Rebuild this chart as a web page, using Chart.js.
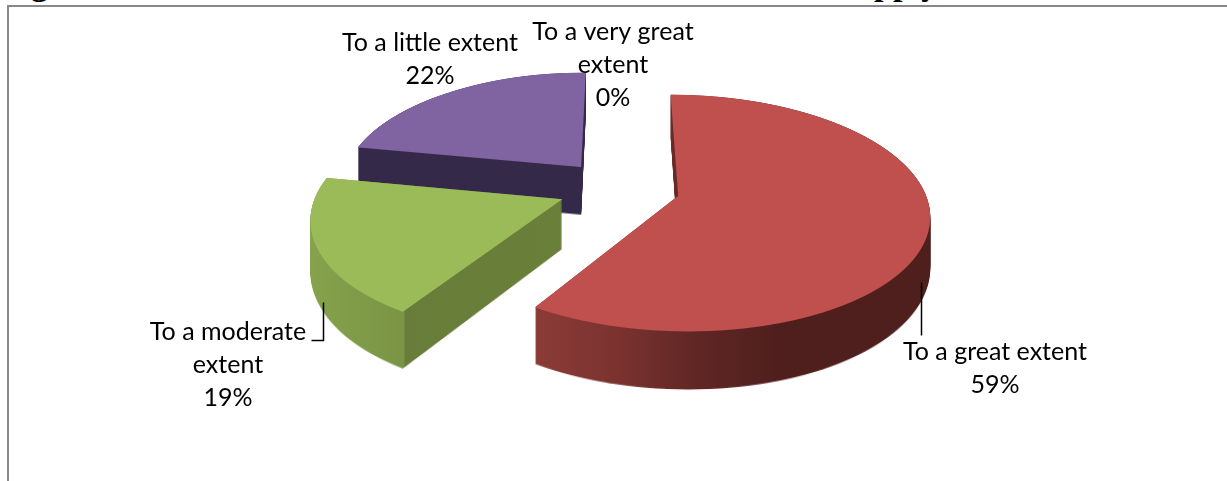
<!DOCTYPE html>
<html>
<head>
<meta charset="utf-8">
<title>Extent chart</title>
<script src="https://cdn.jsdelivr.net/npm/chart.js@4"></script>
<style>
html, body { margin: 0; padding: 0; background: #fff; overflow: hidden; }
#wrap { position: absolute; left: 0; top: 0; width: 1227px; height: 481px; overflow: hidden; }
#frame { position: absolute; left: 7px; top: 5px; width: 1240px; height: 500px; border: 2px solid #888; }
#head { position: absolute; left: 0; top: -33px; width: 1227px; height: 39px; overflow: hidden;
        font: bold 34px/34px "Liberation Serif", serif; white-space: nowrap; color: #000; }
#head span { position: absolute; top: 0; }
canvas { position: absolute; left: 0; top: 0; }
</style>
</head>
<body>
<div id="wrap">
  <div id="head"><span style="left:31px">g</span><span style="left:874px">pply</span></div>
  <div id="frame"></div>
  <canvas id="chart" width="1227" height="481"></canvas>
</div>
<script>
const categories = ['To a very great extent', 'To a great extent', 'To a moderate extent', 'To a little extent'];
const shares = [0, 59, 19, 22];
const topColors = ['#4f81bd', '#c0504d', '#9bbb59', '#8064a2'];

// label text, one line per row
const labelLines = [
    ['To a very great', 'extent', '0%'],
    ['To a great extent', '59%'],
    ['To a moderate', 'extent', '19%'],
    ['To a little extent', '22%']
];
const labelAnchors = [[613, 32], [995, 352], [228, 332], [430, 43]];
const leaders = [null, [[921, 282], [921, 335]], [[323, 302], [323, 340], [311, 340]], null];

// wall shading, stops are screen x
const wallStops = [
    [],
    [[536, '#8b3b37'], [620, '#7a322f'], [700, '#5f2624'], [780, '#4f1f1d'], [930, '#4f1f1d']],
    [[310, '#86a24c'], [404, '#7a9445'], [405, '#687d39'], [565, '#6a7f3a']],
    [[350, '#35294a'], [590, '#35294a']]
];
// the slices are not quite the same width in the picture
const sliceWidth = [1, 0.99, 0.985, 0.97];

// 3d look: the flat pie is projected with one homography
const CX = 619, CY = 188, TILT = 0.458, PERSP = 5.8e-4, EXPLODE = 61, WALL = 50;

function rowScale(row){
    const yy = row + 0.5 - CY;
    const v = yy / (TILT + PERSP * yy);
    return { v: v, s: 1 / (1 - PERSP * v) };
}

function paintTop(target, arc, widen){
    const mid = (arc.startAngle + arc.endAngle) / 2;
    const ex = Math.cos(mid) * EXPLODE, ey = Math.sin(mid) * EXPLODE;
    for (let row = 0; row < target.canvas.height; row++) {
        const { v, s } = rowScale(row);
        target.save();
        target.beginPath();
        target.rect(0, row, target.canvas.width, 1);
        target.clip();
        const sy = TILT * s * s;
        const sx = s * widen;
        target.setTransform(sx, 0, 0, sy, CX + s * ex - sx * arc.x, row + 0.5 + sy * (ey - arc.y - v));
        arc.draw(target);
        target.restore();
    }
}

function layer(w, h){
    const c = document.createElement('canvas');
    c.width = w;
    c.height = h;
    return c.getContext('2d');
}

const pie3d = {
    id: 'pie3d',
    beforeDatasetDraw(chart){
        const { ctx, width, height } = chart;
        const arcs = chart.getDatasetMeta(0).data
            .map((arc, i) => ({ arc, i }))
            .filter(o => o.arc.circumference > 0);
        // back slices first
        arcs.sort((a, b) => Math.sin((a.arc.startAngle + a.arc.endAngle) / 2) - Math.sin((b.arc.startAngle + b.arc.endAngle) / 2));
        arcs.forEach(({ arc, i }) => {
            const top = layer(width, height);
            paintTop(top, arc, sliceWidth[i]);
            const wall = layer(width, height);
            wall.imageSmoothingEnabled = false;
            for (let row = 0; row < height; row++) {
                const h = WALL * rowScale(row).s;
                const whole = Math.floor(h);
                wall.globalAlpha = 1;
                wall.drawImage(top.canvas, 0, row, width, 1, 0, row, width, whole);
                // last partial pixel, keeps the lower edge from stepping
                wall.globalAlpha = h - whole;
                wall.drawImage(top.canvas, 0, row, width, 1, 0, row + whole, width, 1);
            }
            wall.globalAlpha = 1;
            const stops = wallStops[i];
            const x0 = stops[0][0], x1 = stops[stops.length - 1][0];
            const grad = wall.createLinearGradient(x0, 0, x1, 0);
            stops.forEach(st => grad.addColorStop((st[0] - x0) / (x1 - x0), st[1]));
            wall.globalCompositeOperation = 'source-in';
            wall.fillStyle = grad;
            wall.fillRect(0, 0, width, height);
            ctx.save();
            ctx.filter = 'blur(0.6px)';
            ctx.drawImage(wall.canvas, 0, 0);
            ctx.drawImage(top.canvas, 0, 0);
            ctx.restore();
        });
        return false;
    },
    afterDraw(chart){
        const { ctx } = chart;
        ctx.save();
        ctx.fillStyle = '#000';
        ctx.strokeStyle = '#000';
        ctx.lineWidth = 1.5;
        ctx.font = '25px Lato';
        ctx.textAlign = 'center';
        ctx.textBaseline = 'middle';
        labelLines.forEach((lines, i) => {
            lines.forEach((line, n) => ctx.fillText(line, labelAnchors[i][0], labelAnchors[i][1] + n * 33));
            if (leaders[i]) {
                ctx.beginPath();
                leaders[i].forEach((p, k) => k ? ctx.lineTo(p[0] + 0.5, p[1] + 0.5) : ctx.moveTo(p[0] + 0.5, p[1] + 0.5));
                ctx.stroke();
            }
        });
        ctx.restore();
    }
};

new Chart(document.getElementById('chart').getContext('2d'), {
    type: 'pie',
    data: {
        labels: categories,
        datasets: [{ data: shares, backgroundColor: topColors, borderWidth: 0 }]
    },
    options: {
        responsive: false,
        animation: false,
        radius: 248,
        plugins: { legend: { display: false }, tooltip: { enabled: false } }
    },
    plugins: [pie3d]
});
</script>
</body>
</html>
